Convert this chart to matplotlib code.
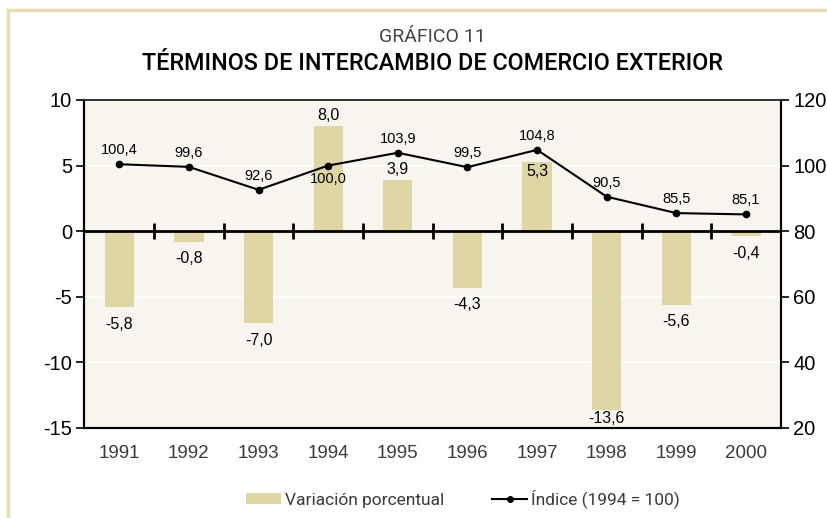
import matplotlib
matplotlib.use("Agg")
import matplotlib.pyplot as plt
from matplotlib.lines import Line2D
from matplotlib.patches import Patch
import numpy as np

plt.rcParams["axes.unicode_minus"] = False

years = ["1991", "1992", "1993", "1994", "1995", "1996", "1997", "1998", "1999", "2000"]
variacion = [-5.8, -0.8, -7.0, 8.0, 3.9, -4.3, 5.3, -13.6, -5.6, -0.4]
indice = [100.4, 99.6, 92.6, 100.0, 103.9, 99.5, 104.8, 90.5, 85.5, 85.1]
left_ticks = [10, 5, 0, -5, -10, -15]
right_ticks = [120, 100, 80, 60, 40, 20]

bar_color = "#DFD6A6"
bg_color = "#F8F5EE"
frame_color = "#E6DDB3"
text_gray = "#3a3a3a"
num_font = ["Liberation Sans", "DejaVu Sans"]
title_font = ["Roboto", "DejaVu Sans"]

fig = plt.figure(figsize=(8.28, 5.18), dpi=100)
ax = fig.add_axes([0.102, 0.174, 0.841, 0.633])
ax.set_facecolor(bg_color)

x = np.arange(len(years))
ax.set_xlim(-0.5, len(years) - 0.5)
ax.set_ylim(-15, 10)
ax.set_yticks(left_ticks)
for t in left_ticks:
    ax.axhline(t, color="white", lw=1.2, zorder=0.5)

ax.bar(x, variacion, width=0.42, color=bar_color, zorder=1)
ax.axhline(0, color="black", lw=2, zorder=3)
ax.plot(x[:-1] + 0.5, np.zeros(len(x) - 1), ls="none", marker="|", ms=11, mew=2, color="black", zorder=3)

ax2 = ax.twinx()
ax2.set_ylim(20, 120)
ax2.set_yticks(right_ticks)
ax2.plot(x, indice, color="black", lw=1.5, marker="o", ms=4.5, zorder=4)

# bar labels
for xi, v, yr in zip(x, variacion, years):
    lab = f"{v:.1f}".replace(".", ",")
    if yr == "1997":
        ax.annotate(lab, (xi, v), xytext=(0, -2), textcoords="offset points", ha="center", va="top",
                    fontsize=11.5, family=num_font, color="black", zorder=5)
    elif yr == "1998":
        ax.annotate(lab, (xi, v), xytext=(0, -1), textcoords="offset points", ha="center", va="top",
                    fontsize=11.5, family=num_font, color="black", zorder=5)
    elif v >= 0:
        ax.annotate(lab, (xi, v), xytext=(0, 2), textcoords="offset points", ha="center", va="bottom",
                    fontsize=11.5, family=num_font, color="black", zorder=5)
    else:
        ax.annotate(lab, (xi, v), xytext=(0, -7), textcoords="offset points", ha="center", va="top",
                    fontsize=11.5, family=num_font, color="black", zorder=5)

# index labels
for xi, v, yr in zip(x, indice, years):
    lab = f"{v:.1f}".replace(".", ",")
    if yr == "1994":
        ax2.annotate(lab, (xi, v), xytext=(0, -5), textcoords="offset points", ha="center", va="top",
                     fontsize=10.5, family=num_font, color="black", zorder=5)
    else:
        ax2.annotate(lab, (xi, v), xytext=(0, 5), textcoords="offset points", ha="center", va="bottom",
                     fontsize=10.5, family=num_font, color="black", zorder=5)

ax.set_xticks(x)
ax.set_xticklabels(years, family=num_font, fontsize=13.5, color=text_gray)
ax.tick_params(axis="x", length=0, pad=12)
ax.tick_params(axis="y", length=6, width=1.2, labelsize=14.5, pad=3)
ax2.tick_params(axis="y", length=6, width=1.2, labelsize=14.5, pad=3)
for lab in ax.get_yticklabels() + ax2.get_yticklabels():
    lab.set_family(num_font)

for a in (ax, ax2):
    for s in a.spines.values():
        s.set_color("black")
        s.set_linewidth(1.5)
    a.spines["top"].set_color("#333333")
    a.spines["top"].set_linewidth(1.2)

# frame
fig.add_artist(Line2D([8 / 828, 8 / 828], [0, 1 - 10 / 518], color=frame_color, lw=2.5, transform=fig.transFigure))
fig.add_artist(Line2D([8 / 828, 1], [1 - 10 / 518, 1 - 10 / 518], color=frame_color, lw=2.5, transform=fig.transFigure))

fig.text(0.522, 1 - 37 / 518, "GRÁFICO 11", ha="center", va="center", fontsize=14,
         family=title_font, weight="normal", color="#444444")
fig.text(0.522, 1 - 64 / 518, "TÉRMINOS DE INTERCAMBIO DE COMERCIO EXTERIOR", ha="center", va="center",
         fontsize=16.8, family=title_font, weight="medium", color="black")

handles = [Patch(facecolor=bar_color, edgecolor="none"),
           Line2D([], [], color="black", lw=1.5, marker="o", ms=4)]
fig.legend(handles, ["Variación porcentual", "Índice (1994 = 100)"], loc="center",
           bbox_to_anchor=(0.559, 1 - 499 / 518), ncol=2, frameon=False, handlelength=2.0,
           handleheight=0.6, columnspacing=2.8, handletextpad=0.2,
           prop={"family": title_font, "size": 12.5, "weight": "normal"}, labelcolor=text_gray)

fig.savefig("out.png", dpi=100, facecolor="white")
